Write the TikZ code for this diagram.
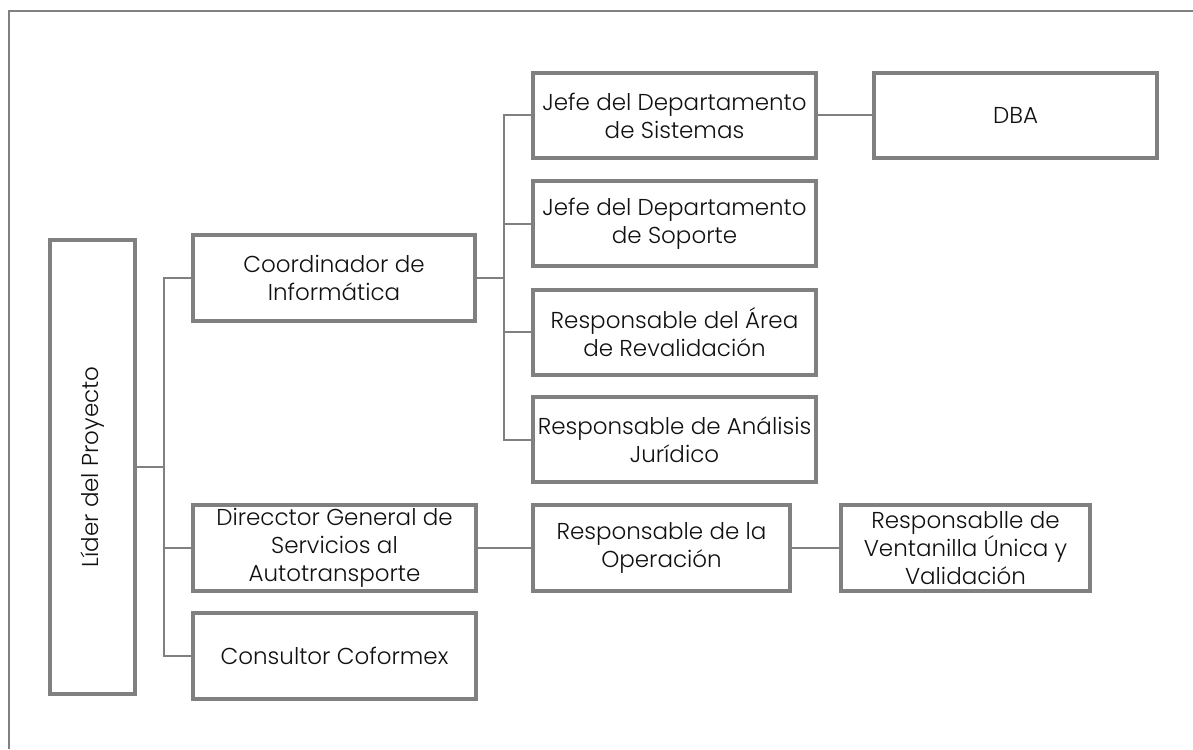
\documentclass[tikz,border=0pt]{standalone}
\usepackage{fontspec}
\setmainfont{Poppins Light}
\definecolor{linegray}{HTML}{808080}
\definecolor{txt}{HTML}{111111}
\tikzset{
  box/.style={draw=linegray, line width=4pt, inner sep=0pt, outer sep=0pt,
    align=center, text=txt, font=\fontsize{23}{28}\selectfont},
  conn/.style={draw=linegray, line width=2pt},
}
\begin{document}
\begin{tikzpicture}[x=1pt,y=-1pt]
\useasboundingbox (0,0) rectangle (1193,749);
\fill[white] (0,0) rectangle (1193,749);
\coordinate (tl) at (9,11);
\coordinate (tr) at (1193,11);
\coordinate (bl) at (9,749);
\draw[conn] (tr) -- (tl) -- (bl);

\node[box, minimum width=85.6pt, minimum height=454pt] (lider) at (92.5,467) {};
\node[rotate=90, text=txt, font=\fontsize{23}{28}\selectfont] (lidert) at (lider.center) {Líder del Proyecto};

\node[box, minimum width=282pt, minimum height=86pt] (coord) at (334,278) {Coordinador de\\Informática};
\node[box, minimum width=283pt, minimum height=85pt] (sis) at (674.5,115.5) {Jefe del Departamento\\de Sistemas};
\node[box, minimum width=283pt, minimum height=85pt] (sop) at (674.5,223.5) {Jefe del Departamento\\de Soporte};
\node[box, minimum width=283pt, minimum height=85pt] (rev) at (674.5,332) {Responsable del Área\\de Revalidación};
\node[box, minimum width=283pt, minimum height=85pt] (ana) at (674.5,439.5) {Responsable de Análisis\\Jurídico};
\node[box, minimum width=283pt, minimum height=84pt] (dba) at (1015.5,115.5) {DBA};
\node[box, minimum width=283pt, minimum height=86pt] (dir) at (334.5,548) {Direcctor General de\\Servicios al\\Autotransporte};
\node[box, minimum width=283pt, minimum height=86pt] (cons) at (334.5,656) {Consultor Coformex};
\node[box, minimum width=257pt, minimum height=86pt] (op) at (661.5,548) {Responsable de la\\Operación};
\node[box, minimum width=249pt, minimum height=86pt] (ven) at (965.5,548) {Responsablle de\\Ventanilla Única y\\Validación};

\coordinate (b1) at (164,467);
\coordinate (b2) at (504,278);

\draw[conn] (lider.east) -- (lider.east -| b1);
\draw[conn] (coord.west) -- (coord.west -| b1) -- (cons.west -| b1) -- (cons.west);
\draw[conn] (dir.west) -- (dir.west -| b1);

\draw[conn] (coord.east) -- (coord.east -| b2);
\draw[conn] (sis.west) -- (sis.west -| b2) -- (ana.west -| b2) -- (ana.west);
\draw[conn] (sop.west) -- (sop.west -| b2);
\draw[conn] (rev.west) -- (rev.west -| b2);

\draw[conn] (sis.east) -- (dba.west);
\draw[conn] (dir.east) -- (op.west);
\draw[conn] (op.east) -- (ven.west);
\end{tikzpicture}
\end{document}
